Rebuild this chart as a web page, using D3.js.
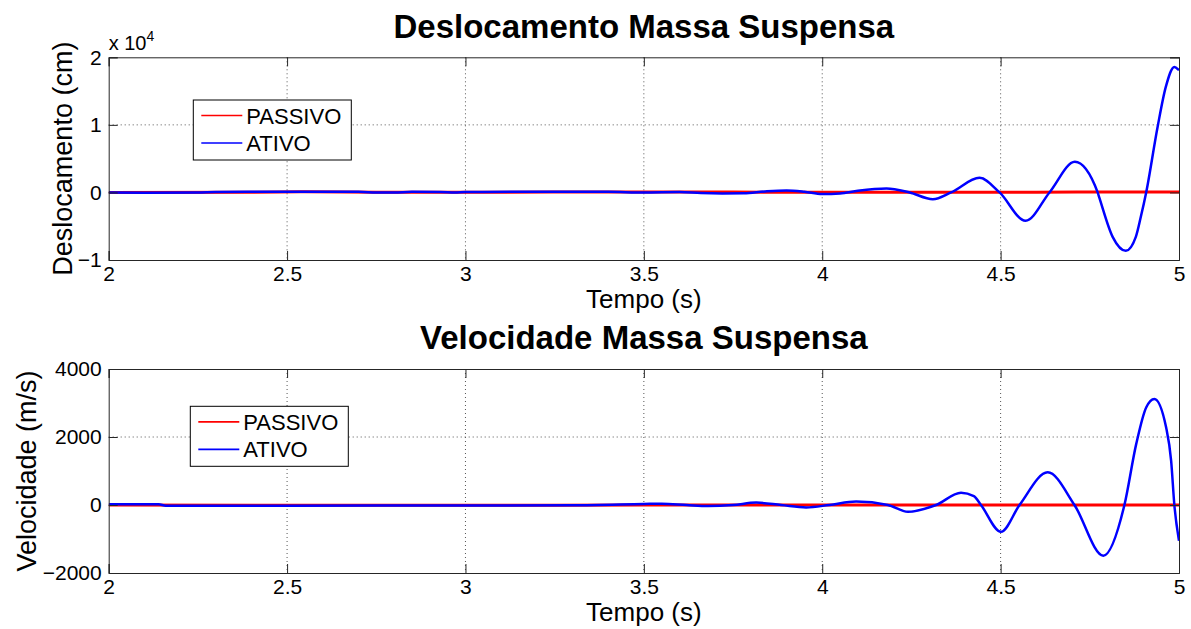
<!DOCTYPE html>
<html>
<head>
<meta charset="utf-8">
<script src="https://cdn.jsdelivr.net/npm/d3@7"></script>
<style>
  html, body { margin: 0; padding: 0; background: #fff; }
  svg { display: block; font-family: "Liberation Sans", Arial, Helvetica, sans-serif; }
</style>
</head>
<body>
<svg id="chart" width="1191" height="629"></svg>
<script>
// ---- Data ---------------------------------------------------------------
const timeTicks = [2, 2.5, 3, 3.5, 4, 4.5, 5];
const seriesNames = ["PASSIVO", "ATIVO"];

// Sprung-mass displacement (cm)
const deslocTempoAtivo = [2.00, 2.10, 2.25, 2.30, 2.50, 2.70, 2.75, 2.80, 2.85, 2.93, 2.97, 3.00, 3.20, 3.40, 3.50, 3.60, 3.66, 3.72, 3.78, 3.84, 3.90, 3.95, 4.00, 4.05, 4.10, 4.18, 4.245, 4.31, 4.361, 4.441, 4.497, 4.57, 4.637, 4.708, 4.772, 4.776, 4.814, 4.851, 4.879, 4.893, 4.908, 4.94, 4.963, 4.987, 5.00];
const deslocAtivo      = [0, -30, -20, 80, 100, 90, 0, -20, 90, 80, -20, 60, 100, 90, 0, 60, -100, -150, -130, 150, 300, 100, -250, -150, 250, 600, 0, -1000, 0, 2160, 0, -4200, 0, 4530, 0, -650, -6570, -8640, -6570, -3610, 0, 9700, 15620, 18580, 18090];
const deslocTempoPassivo = [2.00, 2.40, 2.55, 2.75, 3.00, 3.30, 3.50, 3.75, 4.00, 4.30, 4.60, 4.80, 5.00];
const deslocPassivo      = [0, 30, 90, 40, 20, 60, 80, 50, 30, 20, 40, 60, 50];
const deslocTicks = [-10000, 0, 10000, 20000];

// Sprung-mass velocity (m/s)
const velTempoAtivo = [2.00, 2.14, 2.16, 2.50, 3.00, 3.30, 3.50, 3.55, 3.62, 3.68, 3.75, 3.815, 3.885, 3.955, 4.02, 4.095, 4.184, 4.24, 4.319, 4.389, 4.425, 4.445, 4.501, 4.553, 4.632, 4.707, 4.788, 4.847, 4.880, 4.908, 4.931, 4.964, 4.978, 4.987, 5.00];
const velAtivo      = [20, 20, -20, -20, -15, -10, 30, 40, 0, -30, 0, 70, 0, -70, 0, 100, 0, -200, 0, 360, 260, 0, -790, 0, 960, 0, -1490, 0, 1790, 2870, 3120, 2280, 1300, 0, -1050];
const velTempoPassivo = [2.00, 2.50, 3.00, 3.50, 4.00, 4.50, 5.00];
const velPassivo      = [0, -10, -10, 0, 0, 0, 0];
const velTicks = [-2000, 0, 2000, 4000];

// ---- Layout -------------------------------------------------------------
const svg = d3.select("#chart");
svg.append("rect").attr("width", 1191).attr("height", 629).attr("fill", "#fff");

const colors = { PASSIVO: "#ff0000", ATIVO: "#0000ff" };

function drawPanel(cfg) {
  const x = d3.scaleLinear().domain([2, 5]).range([cfg.left, cfg.right]);
  const y = d3.scaleLinear().domain(cfg.yDomain).range([cfg.bottom, cfg.top]);
  const g = svg.append("g");

  // dotted grid
  g.append("g").selectAll("line").data(timeTicks.slice(1, -1)).join("line")
    .attr("x1", d => x(d)).attr("x2", d => x(d))
    .attr("y1", cfg.top).attr("y2", cfg.bottom)
    .attr("stroke", "#555").attr("stroke-width", 1).attr("stroke-dasharray", "1,3");
  g.append("g").selectAll("line").data(cfg.yTicks.slice(1, -1)).join("line")
    .attr("x1", cfg.left).attr("x2", cfg.right)
    .attr("y1", d => y(d)).attr("y2", d => y(d))
    .attr("stroke", "#555").attr("stroke-width", 1).attr("stroke-dasharray", "1,3");

  // series
  const clipId = "clip-" + cfg.id;
  svg.append("clipPath").attr("id", clipId).append("rect")
    .attr("x", cfg.left).attr("y", cfg.top - 2)
    .attr("width", cfg.right - cfg.left).attr("height", cfg.bottom - cfg.top + 4);
  const line = d3.line().x(d => x(d[0])).y(d => y(d[1])).curve(d3.curveMonotoneX);
  const passivo = d3.zip(cfg.tPassivo, cfg.vPassivo);
  const ativo = d3.zip(cfg.tAtivo, cfg.vAtivo);
  const lines = g.append("g").attr("clip-path", `url(#${clipId})`);
  lines.append("path").datum(passivo).attr("d", line)
    .attr("fill", "none").attr("stroke", colors.PASSIVO).attr("stroke-width", 3);
  lines.append("path").datum(ativo).attr("d", line)
    .attr("fill", "none").attr("stroke", colors.ATIVO).attr("stroke-width", 2.5)
    .attr("stroke-linejoin", "round");

  // axes (ticks point inward, box on all sides)
  const tickLen = 9, axisColor = "#262626";
  const axB = d3.axisBottom(x).tickValues(timeTicks).tickSize(-tickLen).tickFormat(d3.format("~g"));
  const axT = d3.axisTop(x).tickValues(timeTicks).tickSize(-tickLen).tickFormat("");
  const axL = d3.axisLeft(y).tickValues(cfg.yTicks).tickSize(-tickLen).tickFormat(cfg.yFormat);
  const axR = d3.axisRight(y).tickValues(cfg.yTicks).tickSize(-tickLen).tickFormat("");
  const styleAxis = sel => {
    sel.select(".domain").attr("stroke", axisColor).attr("stroke-width", 1);
    sel.selectAll(".tick line").attr("stroke", axisColor).attr("stroke-width", 1);
    sel.selectAll(".tick text").attr("fill", "#000").attr("font-size", 21)
      .attr("font-family", "Liberation Sans, Arial, sans-serif");
  };
  g.append("g").attr("transform", `translate(0,${cfg.bottom})`).call(axB).call(styleAxis)
    .call(s => s.selectAll(".tick text").attr("y", 6).attr("dy", "0.71em"));
  g.append("g").attr("transform", `translate(0,${cfg.top})`).call(axT).call(styleAxis);
  g.append("g").attr("transform", `translate(${cfg.left},0)`).call(axL).call(styleAxis)
    .call(s => s.selectAll(".tick text").attr("x", -7));
  g.append("g").attr("transform", `translate(${cfg.right},0)`).call(axR).call(styleAxis);

  // titles and labels
  g.append("text").attr("x", (cfg.left + cfg.right) / 2).attr("y", cfg.titleY)
    .attr("text-anchor", "middle").attr("font-weight", "bold").attr("font-size", 33)
    .text(cfg.title);
  g.append("text").attr("x", (cfg.left + cfg.right) / 2).attr("y", cfg.bottom + 48)
    .attr("text-anchor", "middle").attr("font-size", 26).text("Tempo (s)");
  g.append("text")
    .attr("transform", `translate(${cfg.yLabelX},${(cfg.top + cfg.bottom) / 2}) rotate(-90)`)
    .attr("text-anchor", "middle").attr("font-size", 27).text(cfg.yLabel);

  // legend
  const lg = g.append("g").attr("transform", `translate(${cfg.legend[0]},${cfg.legend[1]})`);
  lg.append("rect").attr("width", 158).attr("height", 60)
    .attr("fill", "#fff").attr("stroke", "#000").attr("stroke-width", 1);
  seriesNames.forEach((name, i) => {
    const rowY = 15.5 + i * 27.5;
    lg.append("line").attr("x1", 8).attr("x2", 49).attr("y1", rowY).attr("y2", rowY)
      .attr("stroke", colors[name]).attr("stroke-width", 1.7);
    lg.append("text").attr("x", 53).attr("y", rowY + 8).attr("font-size", 22).text(name);
  });

  return { x, y, g };
}

const deslocPanel = drawPanel({
  id: "desloc", left: 108.7, right: 1179, top: 57.3, bottom: 260,
  yDomain: [-10000, 20000], yTicks: deslocTicks, yFormat: d => d3.format("~g")(d / 1e4),
  tPassivo: deslocTempoPassivo, vPassivo: deslocPassivo,
  tAtivo: deslocTempoAtivo, vAtivo: deslocAtivo,
  title: "Deslocamento Massa Suspensa", titleY: 37.7,
  yLabel: "Deslocamento (cm)", yLabelX: 71.5,
  legend: [193.3, 100]
});

// exponent multiplier above the displacement axis
const expo = deslocPanel.g.append("text").attr("x", 108.7).attr("y", 50).attr("font-size", 20);
expo.append("tspan").text("x 10");
expo.append("tspan").attr("dy", -9).attr("font-size", 14).text("4");

drawPanel({
  id: "vel", left: 108.7, right: 1179, top: 369, bottom: 573,
  yDomain: [-2000, 4000], yTicks: velTicks, yFormat: d3.format("d"),
  tPassivo: velTempoPassivo, vPassivo: velPassivo,
  tAtivo: velTempoAtivo, vAtivo: velAtivo,
  title: "Velocidade Massa Suspensa", titleY: 349.4,
  yLabel: "Velocidade (m/s)", yLabelX: 36,
  legend: [190.3, 406.3]
});
</script>
</body>
</html>
